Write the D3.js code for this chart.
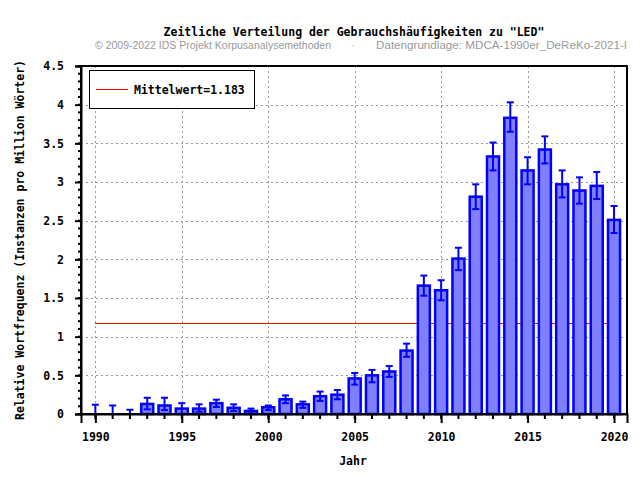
<!DOCTYPE html>
<html><head><meta charset="utf-8">
<script src="https://cdn.jsdelivr.net/npm/d3@7"></script>
<style>body{margin:0;background:#fff}svg{display:block}</style>
</head><body>
<script>
const years = [1990,1991,1992,1993,1994,1995,1996,1997,1998,1999,2000,2001,2002,2003,2004,2005,2006,2007,2008,2009,2010,2011,2012,2013,2014,2015,2016,2017,2018,2019,2020];
const values = [0,0,0,0.13,0.11,0.07,0.07,0.14,0.08,0.04,0.087,0.19,0.125,0.23,0.25,0.46,0.50,0.55,0.82,1.66,1.60,2.01,2.81,3.33,3.83,3.15,3.42,2.97,2.89,2.95,2.51];
const upper = [0.12,0.11,0.055,0.21,0.21,0.14,0.125,0.185,0.125,0.07,0.11,0.24,0.16,0.29,0.31,0.53,0.57,0.62,0.91,1.79,1.73,2.15,2.97,3.51,4.03,3.32,3.59,3.15,3.06,3.13,2.69];
const lower = [0,0,0,0.06,0.05,0.0,0.03,0.09,0.04,0.01,0.05,0.14,0.08,0.17,0.19,0.38,0.41,0.48,0.74,1.53,1.47,1.86,2.65,3.15,3.65,2.97,3.24,2.80,2.72,2.78,2.34];
const meanValue = 1.183;
const yTicks = [0,0.5,1,1.5,2,2.5,3,3.5,4,4.5];
const xTicks = [1990,1995,2000,2005,2010,2015,2020];
const titleText = 'Zeitliche Verteilung der Gebrauchshäufigkeiten zu "LED"';
const copyText = '© 2009-2022 IDS Projekt Korpusanalysemethoden';
const sourceText = 'Datengrundlage: MDCA-1990er_DeReKo-2021-I';
const legendText = 'Mittelwert=1.183';
const xLabel = 'Jahr';
const yLabel = 'Relative Wortfrequenz (Instanzen pro Million Wörter)';

const W = 640, H = 480;
const L = 81, R = 627, T = 66, B = 414;
const mono = '"DejaVu Sans Mono", monospace';

const svg = d3.select('body').append('svg').attr('width', W).attr('height', H);

const x = d3.scaleLinear().domain([1989.17, 2020.75]).range([L, R]);
const y = d3.scaleLinear().domain([0, 4.5]).range([B, T]);

// grid
const grid = svg.append('g').attr('stroke', '#999').attr('stroke-width', 1).attr('stroke-dasharray', '2,3');
grid.selectAll('line.h').data(yTicks.filter(d => d > 0 && d < 4.5)).join('line')
  .attr('x1', L).attr('x2', R).attr('y1', d => Math.round(y(d)) + 0.5).attr('y2', d => Math.round(y(d)) + 0.5);
grid.selectAll('line.v').data(xTicks).join('line')
  .attr('y1', T).attr('y2', B).attr('x1', d => Math.round(x(d)) + 0.5).attr('x2', d => Math.round(x(d)) + 0.5);

// mean line (behind the bars)
svg.append('line').attr('x1', x(1990)).attr('x2', x(2020))
  .attr('y1', Math.round(y(meanValue)) + 0.5).attr('y2', Math.round(y(meanValue)) + 0.5)
  .attr('stroke', '#ff0000').attr('stroke-width', 1.2).attr('shape-rendering', 'crispEdges');

// bars
const data = years.map((yr, i) => ({yr, v: values[i], hi: upper[i], lo: lower[i]}));
const bw = 12;
svg.append('g').selectAll('rect').data(data.filter(d => d.v > 0)).join('rect')
  .attr('x', d => x(d.yr) - bw / 2).attr('width', bw)
  .attr('y', d => y(d.v)).attr('height', d => y(0) - y(d.v))
  .attr('fill', '#8080ff').attr('stroke', '#0000ff').attr('stroke-width', 2.5);

// error bars
const eb = svg.append('g').attr('stroke', '#0000ff').attr('stroke-width', 2);
eb.selectAll('line.v').data(data).join('line')
  .attr('x1', d => x(d.yr)).attr('x2', d => x(d.yr)).attr('y1', d => y(d.lo)).attr('y2', d => y(d.hi));
eb.selectAll('line.t').data(data).join('line')
  .attr('x1', d => x(d.yr) - 3.5).attr('x2', d => x(d.yr) + 3.5).attr('y1', d => y(d.hi)).attr('y2', d => y(d.hi));
eb.selectAll('line.b').data(data.filter(d => d.lo > 0)).join('line')
  .attr('x1', d => x(d.yr) - 3.5).attr('x2', d => x(d.yr) + 3.5).attr('y1', d => y(d.lo)).attr('y2', d => y(d.lo));

// frame
svg.append('rect').attr('x', L).attr('y', T).attr('width', R - L).attr('height', B - T)
  .attr('fill', 'none').attr('stroke', '#000').attr('stroke-width', 2);

// axes
const yMinor = d3.range(0, 45.5, 1).map(d => d / 10);
const yAxis = d3.axisLeft(y).tickValues(yTicks).tickSize(6).tickPadding(11).tickFormat(d => String(d));
const gy = svg.append('g').attr('transform', `translate(${L},0)`).call(yAxis);
gy.append('g').selectAll('line').data(yMinor).join('line')
  .attr('x1', -3).attr('x2', 0).attr('y1', d => y(d)).attr('y2', d => y(d)).attr('stroke', '#000').attr('stroke-width', 2);
const xAxis = d3.axisBottom(x).tickValues(xTicks).tickSize(9).tickPadding(10).tickFormat(d3.format('d'));
const gx = svg.append('g').attr('transform', `translate(0,${B})`).call(xAxis);
gx.append('g').selectAll('line').data(years).join('line')
  .attr('x1', d => x(d)).attr('x2', d => x(d)).attr('y1', 0).attr('y2', 5).attr('stroke', '#000').attr('stroke-width', 2);
[gx, gy].forEach(g => {
  g.select('.domain').attr('stroke-width', 2);
  g.selectAll('.tick line').attr('stroke-width', 2);
  g.selectAll('text').attr('font-family', mono).attr('font-weight', 'bold').attr('font-size', '11.5px').attr('fill', '#000');
});

// titles
svg.append('text').attr('x', 354).attr('y', 36).attr('text-anchor', 'middle')
  .attr('font-family', mono).attr('font-weight', 'bold').attr('font-size', '11.5px').text(titleText);
const sub = svg.append('g').attr('font-family', '"Liberation Sans", Arial, sans-serif').attr('font-size', '10px').attr('fill', '#999');
sub.append('text').attr('x', 95).attr('y', 48.5).attr('textLength', 236).attr('lengthAdjust', 'spacingAndGlyphs').text(copyText);
sub.append('text').attr('x', 353).attr('y', 48.5).attr('text-anchor', 'middle').text('·');
sub.append('text').attr('x', 376).attr('y', 48.5).attr('textLength', 251).attr('lengthAdjust', 'spacingAndGlyphs').text(sourceText);

svg.append('text').attr('x', 353).attr('y', 465).attr('text-anchor', 'middle')
  .attr('font-family', mono).attr('font-weight', 'bold').attr('font-size', '11.5px').text(xLabel);
svg.append('text').attr('transform', 'translate(24,240) rotate(-90)').attr('text-anchor', 'middle')
  .attr('font-family', mono).attr('font-weight', 'bold').attr('font-size', '11.5px').text(yLabel);

// legend
svg.append('rect').attr('x', 89.5).attr('y', 70.5).attr('width', 165).attr('height', 38)
  .attr('fill', '#fff').attr('stroke', '#000').attr('stroke-width', 1);
svg.append('line').attr('x1', 96).attr('x2', 128).attr('y1', 89.5).attr('y2', 89.5)
  .attr('stroke', '#ff0000').attr('stroke-width', 1.2).attr('shape-rendering', 'crispEdges');
svg.append('text').attr('x', 134).attr('y', 93.5)
  .attr('font-family', mono).attr('font-weight', 'bold').attr('font-size', '11.5px').text(legendText);
</script>
</body></html>
